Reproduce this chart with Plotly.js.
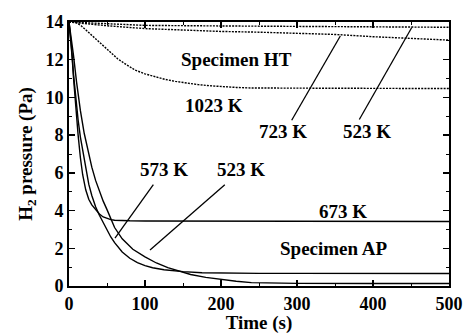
<!DOCTYPE html>
<html>
<head>
<meta charset="utf-8">
<script src="https://cdn.plot.ly/plotly-3.0.1.min.js"></script>
<style>html,body{margin:0;padding:0;background:#fff}#chart{width:464px;height:334px}</style>
</head>
<body>
<div id="chart"></div>
<script>
// Specimen AP (solid)
const ap673_t = [0, 2, 4, 6, 8, 10, 12, 15, 18, 22, 26, 30, 35, 40, 45, 50, 55, 60, 70, 80, 100, 150, 200, 300, 400, 500];
const ap673_p = [14, 13.2, 12.2, 11.0, 9.9, 8.9, 8.0, 6.8, 5.9, 5.1, 4.6, 4.3, 4.05, 3.82, 3.66, 3.57, 3.52, 3.49, 3.47, 3.46, 3.45, 3.45, 3.44, 3.43, 3.42, 3.42];

const ap573_t = [0, 3, 6, 9, 12, 15, 18, 22, 26, 30, 35, 40, 45, 50, 55, 60, 70, 80, 90, 100, 110, 125, 150, 175, 200, 250, 300, 400, 500];
const ap573_p = [14, 12.8, 11.2, 9.9, 8.8, 7.9, 7.2, 6.2, 5.4, 4.8, 4.2, 3.75, 3.35, 2.95, 2.6, 2.3, 1.8, 1.47, 1.24, 1.08, 0.97, 0.86, 0.76, 0.7, 0.68, 0.67, 0.67, 0.66, 0.66];

const ap523_t = [0, 3, 6, 10, 15, 20, 25, 30, 35, 40, 45, 50, 60, 70, 84, 100, 115, 130, 145, 160, 180, 200, 220, 240, 270, 300, 400, 500];
const ap523_p = [14, 13.2, 12.2, 10.8, 9.3, 8.1, 7.1, 6.3, 5.6, 5.0, 4.5, 4.05, 3.1, 2.5, 1.95, 1.55, 1.22, 0.97, 0.78, 0.61, 0.46, 0.34, 0.25, 0.18, 0.15, 0.14, 0.13, 0.13];

// Specimen HT (dotted)
const ht1023_t = [0, 5, 10, 16, 23, 30, 37, 44, 54, 64, 75, 87, 100, 113, 126, 140, 155, 170, 185, 200, 220, 240, 270, 300, 400, 500];
const ht1023_p = [14, 14, 13.95, 13.8, 13.55, 13.3, 13.05, 12.8, 12.4, 12.05, 11.75, 11.45, 11.25, 11.1, 10.96, 10.85, 10.76, 10.68, 10.62, 10.57, 10.53, 10.5, 10.5, 10.5, 10.48, 10.47];

const ht723_t = [0, 25, 50, 100, 150, 200, 250, 300, 350, 400, 450, 500];
const ht723_p = [14, 13.9, 13.8, 13.65, 13.57, 13.5, 13.46, 13.42, 13.34, 13.22, 13.12, 13.04];

const ht523_t = [0, 100, 200, 300, 400, 500];
const ht523_p = [14, 13.82, 13.79, 13.77, 13.75, 13.72];

// Axis ticks
const xTicks = [0, 100, 200, 300, 400, 500];
const yTicks = [0, 2, 4, 6, 8, 10, 12, 14];

// Text labels
const labelText = ["Specimen HT", "1023 K", "723 K", "523 K", "573 K", "523 K", "673 K", "Specimen AP"];
const labelX = [220, 191, 281, 392, 125, 226, 361, 349];
const labelY = [12.0, 9.57, 8.2, 8.2, 6.17, 6.17, 3.94, 1.97];

// Leader lines
const leaderX0 = [293, 382, 111, 205];
const leaderY0 = [8.79, 8.83, 5.37, 5.37];
const leaderX1 = [357, 451, 60.5, 106.6];
const leaderY1 = [13.26, 13.71, 2.54, 1.91];

const FONT = "Liberation Serif";
const solid = {color: '#000', width: 1.4};
const dotted = {color: '#000', width: 1.4, dash: '2px,1.2px'};

const traces = [
  {x: ap673_t, y: ap673_p, mode: 'lines', line: solid},
  {x: ap573_t, y: ap573_p, mode: 'lines', line: solid},
  {x: ap523_t, y: ap523_p, mode: 'lines', line: solid},
  {x: ht1023_t, y: ht1023_p, mode: 'lines', line: dotted},
  {x: ht723_t, y: ht723_p, mode: 'lines', line: dotted},
  {x: ht523_t, y: ht523_p, mode: 'lines', line: dotted}
];

const annotations = labelText.map((t, i) => ({
  x: labelX[i], y: labelY[i], xref: 'x', yref: 'y', text: '<b>' + t + '</b>', showarrow: false,
  font: {family: FONT, size: 19, color: '#000'}
}));

const shapes = leaderX0.map((x0, i) => ({
  type: 'line', xref: 'x', yref: 'y', x0: x0, y0: leaderY0[i], x1: leaderX1[i], y1: leaderY1[i],
  line: {color: '#000', width: 1.3}
}));

const layout = {
  width: 464, height: 334,
  margin: {l: 69, r: 15, t: 22, b: 48},
  paper_bgcolor: '#fff', plot_bgcolor: '#fff',
  showlegend: false,
  font: {family: FONT, size: 18, color: '#000'},
  xaxis: {
    range: [0, 500], tickmode: 'array', tickvals: xTicks, ticktext: xTicks.map(v => '<b>' + v + '</b>'),
    showline: true, linecolor: '#000', linewidth: 2, mirror: 'allticks',
    ticks: 'inside', ticklen: 6, tickwidth: 1.3, tickcolor: '#000',
    showgrid: false, zeroline: false,
    tickfont: {family: FONT, size: 18, color: '#000'},
    minor: {ticks: 'inside', dtick: 50, ticklen: 3, tickwidth: 1, tickcolor: '#000', showgrid: false},
    title: {text: '<b>Time (s)</b>', font: {family: FONT, size: 19, color: '#000'}, standoff: 4}
  },
  yaxis: {
    range: [0, 14], tickmode: 'array', tickvals: yTicks, ticktext: yTicks.map(v => '<b>' + v + '</b>'),
    showline: true, linecolor: '#000', linewidth: 2, mirror: 'allticks',
    ticks: 'inside', ticklen: 6, tickwidth: 1.3, tickcolor: '#000',
    showgrid: false, zeroline: false,
    tickfont: {family: FONT, size: 18, color: '#000'},
    minor: {ticks: 'inside', dtick: 1, ticklen: 3, tickwidth: 1, tickcolor: '#000', showgrid: false},
    title: {text: '<b>H<sub>2</sub> pressure (Pa)</b>', font: {family: FONT, size: 19, color: '#000'}, standoff: 8}
  },
  annotations: annotations,
  shapes: shapes
};

Plotly.newPlot('chart', traces, layout, {staticPlot: true, displayModeBar: false});
</script>
</body>
</html>
